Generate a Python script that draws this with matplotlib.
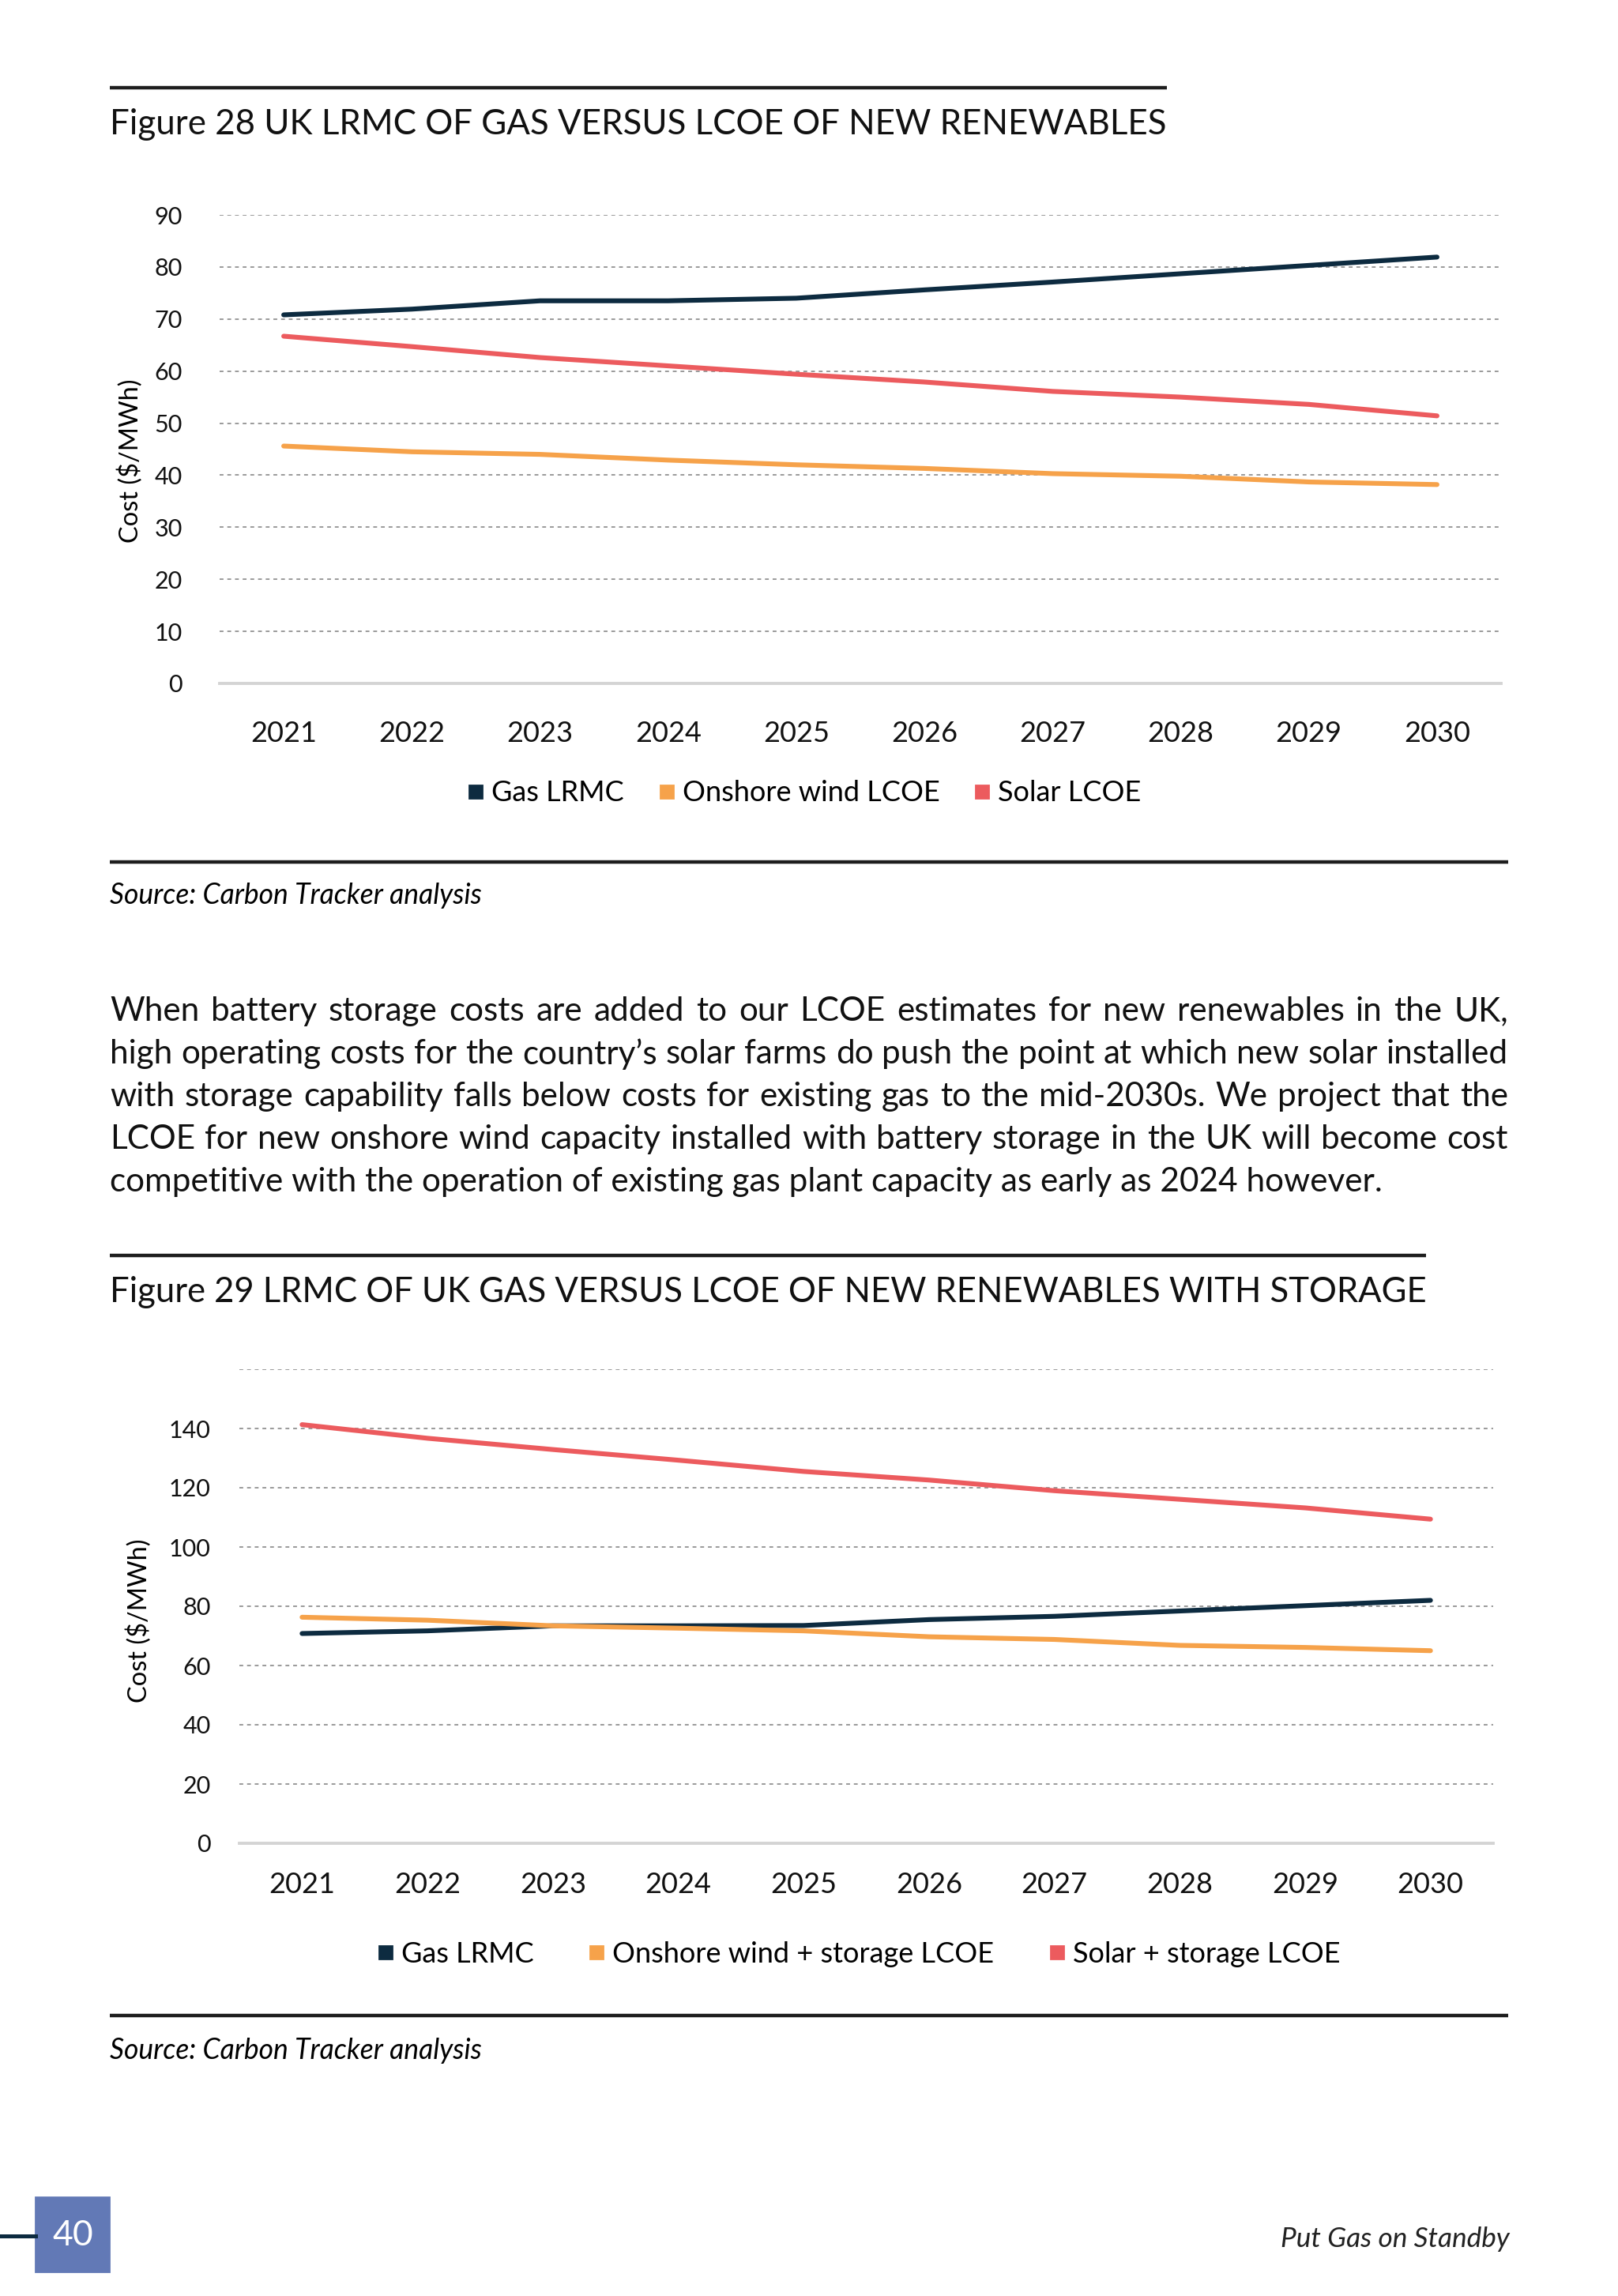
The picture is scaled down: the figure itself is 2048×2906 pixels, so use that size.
import matplotlib
matplotlib.use('Agg')
import matplotlib.pyplot as plt
from matplotlib.lines import Line2D
from matplotlib.patches import Rectangle

# --- data ---
years = ['2021', '2022', '2023', '2024', '2025', '2026', '2027', '2028', '2029', '2030']

gas_lrmc_28 = [70.8, 71.9, 73.5, 73.5, 74.0, 75.6, 77.1, 78.7, 80.3, 81.9]
onshore_lcoe_28 = [45.6, 44.5, 44.0, 42.9, 42.0, 41.3, 40.3, 39.8, 38.7, 38.2]
solar_lcoe_28 = [66.7, 64.7, 62.6, 61.0, 59.4, 57.9, 56.1, 55.0, 53.6, 51.4]

gas_lrmc_29 = [70.8, 71.7, 73.4, 73.4, 73.5, 75.5, 76.6, 78.4, 80.2, 82.0]
onshore_storage_29 = [76.3, 75.3, 73.4, 72.6, 71.7, 69.7, 68.8, 66.8, 66.1, 65.0]
solar_storage_29 = [141.3, 136.7, 132.9, 129.3, 125.5, 122.6, 119.0, 116.1, 113.2, 109.4]

labels_28 = ['Gas LRMC', 'Onshore wind LCOE', 'Solar LCOE']
labels_29 = ['Gas LRMC', 'Onshore wind + storage LCOE', 'Solar + storage LCOE']

title_28 = 'Figure 28 UK LRMC OF GAS VERSUS LCOE OF NEW RENEWABLES'
title_29 = 'Figure 29 LRMC OF UK GAS VERSUS LCOE OF NEW RENEWABLES WITH STORAGE'
source = 'Source: Carbon Tracker analysis'
ylabel = 'Cost ($/MWh)'

paragraph = [
    'When battery storage costs are added to our LCOE estimates for new renewables in the UK,',
    'high operating costs for the country\u2019s solar farms do push the point at which new solar installed',
    'with storage capability falls below costs for existing gas to the mid-2030s. We project that the',
    'LCOE for new onshore wind capacity installed with battery storage in the UK will become cost',
    'competitive with the operation of existing gas plant capacity as early as 2024 however.',
]

NAVY = '#0D2B40'
ORANGE = '#F6A24A'
RED = '#EC5B5E'
colors = [NAVY, ORANGE, RED]

plt.rcParams['font.family'] = ['Lato', 'DejaVu Sans']

W, H = 2048, 2906
fig = plt.figure(figsize=(W / 200, H / 200), dpi=200)
renderer = fig.canvas.get_renderer()


def fx(x):
    return x / W


def fy(y):
    return 1 - y / H


def width_px(s, **kw):
    t = fig.text(0, 0, s, **kw)
    w = t.get_window_extent(renderer).width
    t.remove()
    return w


def fit_size(s, target, **kw):
    # font size that makes s about target pixels long
    return 14 * target / width_px(s, fontsize=14, **kw)


def rule(x0, x1, y, lw=1.6):
    fig.add_artist(Line2D([fx(x0), fx(x1)], [fy(y), fy(y)], color='#1E1E1E',
                          lw=lw, transform=fig.transFigure, solid_capstyle='butt'))


def chart(rect, series, labels, ymax, step, hide_top, ypad, xpad, legend_xy, colspace):
    left, top, right, bottom = rect
    ax = fig.add_axes([fx(left), fy(bottom), fx(right) - fx(left), (bottom - top) / H])
    x = range(len(years))
    for vals, c in zip(series, colors):
        ax.plot(x, vals, color=c, lw=2.2, solid_capstyle='round')
    ax.set_xlim(-0.5, len(years) - 0.5)
    ax.set_ylim(0, ymax)
    ticks = list(range(0, ymax + 1, step))
    ax.set_yticks(ticks)
    ax.set_yticklabels([('' if (hide_top and t == ymax) else str(t)) for t in ticks])
    ax.set_xticks(list(x))
    ax.set_xticklabels(years)
    ax.tick_params(axis='y', length=0, pad=ypad, labelsize=11, labelcolor='#111111')
    ax.tick_params(axis='x', length=0, pad=xpad, labelsize=13, labelcolor='#111111')
    ax.grid(axis='y', color='#9A9A9A', lw=0.7, linestyle=(0, (2.5, 2.5)))
    ax.set_axisbelow(True)
    for s in ['top', 'right', 'left']:
        ax.spines[s].set_visible(False)
    ax.spines['bottom'].set_color('#D4D4D4')
    ax.spines['bottom'].set_linewidth(1.4)
    handles = [Line2D([], [], marker='s', ls='none', color=c, markersize=5.5) for c in colors]
    fig.legend(handles, labels, loc='center', bbox_to_anchor=(fx(legend_xy[0]), fy(legend_xy[1])),
               ncol=3, frameon=False, fontsize=13, handletextpad=0.15, columnspacing=colspace,
               handlelength=0.8)
    return ax


src_size = fit_size(source, 471, style='italic')
ylab_size = fit_size(ylabel, 207)

# ---------- Figure 28 ----------
rule(139, 1477, 111)
fig.text(fx(139), fy(157), title_28, fontsize=fit_size(title_28, 1477 - 139),
         va='center', color='#111111')
chart((278, 272, 1900, 865), [gas_lrmc_28, onshore_lcoe_28, solar_lcoe_28], labels_28,
      90, 10, False, 17, 17, (1016, 1004), 1.1)
fig.text(fx(165), fy(583), ylabel, rotation=90, fontsize=ylab_size, ha='center', va='center')
rule(139, 1909, 1091)
fig.text(fx(139), fy(1133), source, fontsize=src_size, style='italic', va='center')

# ---------- paragraph (justified) ----------
para_x0, para_x1 = 139, 1909
para_y = [1280, 1334, 1388, 1442, 1496]
para_size = min(fit_size(l, para_x1 - para_x0) for l in paragraph[:-1])
pkw = dict(fontsize=para_size, color='#111111')
for i, (line, y) in enumerate(zip(paragraph, para_y)):
    words = line.split(' ')
    if i == len(paragraph) - 1:
        fig.text(fx(para_x0), fy(y), line, va='center', **pkw)
        continue
    widths = [width_px(w, **pkw) for w in words]
    gap = (para_x1 - para_x0 - sum(widths)) / (len(words) - 1)
    xpos = para_x0
    for w, wd in zip(words, widths):
        fig.text(fx(xpos), fy(y), w, va='center', **pkw)
        xpos += wd + gap

# ---------- Figure 29 ----------
rule(139, 1805, 1589)
fig.text(fx(139), fy(1635), title_29, fontsize=fit_size(title_29, 1805 - 139),
         va='center', color='#111111')
chart((303, 1733, 1890, 2333), [gas_lrmc_29, onshore_storage_29, solar_storage_29], labels_29,
      160, 20, True, 13, 13, (1085, 2473), 1.8)
fig.text(fx(176), fy(2051), ylabel, rotation=90, fontsize=ylab_size, ha='center', va='center')
rule(139, 1909, 2551)
fig.text(fx(139), fy(2595), source, fontsize=src_size, style='italic', va='center')

# ---------- page footer ----------
fig.add_artist(Rectangle((fx(45), fy(2875)), fx(138) - fx(45), (2875 - 2781) / H,
                         color='#6279B6', transform=fig.transFigure))
fig.add_artist(Line2D([0, fx(45)], [fy(2830), fy(2830)], color=NAVY, lw=1.8,
                      transform=fig.transFigure))
fig.text(fx(92), fy(2829), '40', color='white', fontsize=16, ha='center', va='center')
foot = 'Put Gas on Standby'
fig.text(fx(1911), fy(2834), foot, fontsize=fit_size(foot, 290, style='italic'), style='italic',
         ha='right', va='center', color='#222222')

fig.savefig('out.png', dpi=200)
